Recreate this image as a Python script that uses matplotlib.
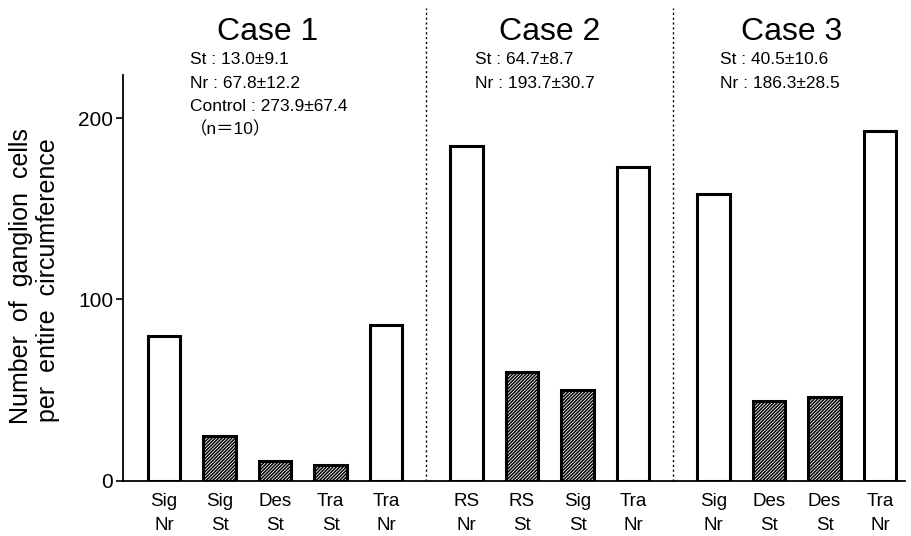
import matplotlib
matplotlib.use("Agg")
import matplotlib.pyplot as plt
import matplotlib.transforms as mtransforms

plt.rcParams['font.family'] = ['Liberation Sans', 'Noto Sans CJK JP', 'DejaVu Sans']
plt.rcParams['hatch.linewidth'] = 1.1

# ---- data ----
cases = ["Case 1", "Case 2", "Case 3"]
labels_top = ["Sig", "Sig", "Des", "Tra", "Tra", "RS", "RS", "Sig", "Tra", "Sig", "Des", "Des", "Tra"]
labels_bot = ["Nr", "St", "St", "St", "Nr", "Nr", "St", "St", "Nr", "Nr", "St", "St", "Nr"]
values = [80, 24.5, 10.5, 8.5, 86, 185, 60, 50, 173, 158.5, 44, 46, 193]
case_of_bar = [0, 0, 0, 0, 0, 1, 1, 1, 1, 2, 2, 2, 2]
case_notes = [
    ["St : 13.0±9.1", "Nr : 67.8±12.2", "Control : 273.9±67.4", "（n＝10）"],
    ["St : 64.7±8.7", "Nr : 193.7±30.7"],
    ["St : 40.5±10.6", "Nr : 186.3±28.5"],
]
yticks = [0, 100, 200]

# ---- layout ----
gap = 0.45
positions = [i + gap * c for i, c in enumerate(case_of_bar)]

W, H = 911, 536
fig = plt.figure(figsize=(W / 100, H / 100), dpi=100)
ax = fig.add_axes([123 / W, 1 - 480.5 / H, (905 - 123) / W, (480.5 - 75) / H])

for x, v, lt, lb in zip(positions, values, labels_top, labels_bot):
    hatched = (lb == "St")
    ax.bar(x, v, width=0.58, facecolor="white", edgecolor="black", linewidth=2.2,
           hatch="//////////" if hatched else None, zorder=3)

ax.set_xlim(-0.74, 13.35)
ax.set_ylim(0, 224)
ax.set_yticks(yticks)
ax.set_yticklabels([str(t) for t in yticks], fontsize=15)
ax.set_xticks(positions)
ax.set_xticklabels([f"{a}\n{b}" for a, b in zip(labels_top, labels_bot)], fontsize=13.5,
                   linespacing=1.55)
ax.tick_params(axis="x", length=0, pad=9)
ax.tick_params(axis="y", length=5, width=1.2, direction="out", pad=2)
for s in ["top", "right"]:
    ax.spines[s].set_visible(False)
ax.spines["left"].set_linewidth(1.3)
ax.spines["bottom"].set_linewidth(1.3)

# dashed separators between cases
trans = mtransforms.blended_transform_factory(ax.transData, ax.transAxes)
sep_idx = [i for i in range(1, len(case_of_bar)) if case_of_bar[i] != case_of_bar[i - 1]]
for i in sep_idx:
    xs = (positions[i] + positions[i - 1]) / 2
    ax.plot([xs, xs], [0, 1.165], transform=trans, color="black", linestyle=(0, (1.5, 2)),
            linewidth=1.0, clip_on=False)

# case titles and notes
title_x = [268, 550, 792]
note_x = [190, 475, 720]
for c in range(len(cases)):
    fig.text(title_x[c] / W, 1 - 40 / H, cases[c], fontsize=23, ha="center", va="baseline")
    for k, line in enumerate(case_notes[c]):
        fig.text(note_x[c] / W, 1 - (64 + 23.5 * k) / H, line, fontsize=12.5,
                 ha="left", va="baseline")

fig.text(21 / W, 1 - 276 / H, "Number  of  ganglion  cells", rotation=90, fontsize=18,
         ha="center", va="center")
fig.text(48 / W, 1 - 280 / H, "per  entire  circumference", rotation=90, fontsize=18,
         ha="center", va="center")

fig.savefig("out.png", dpi=100)
